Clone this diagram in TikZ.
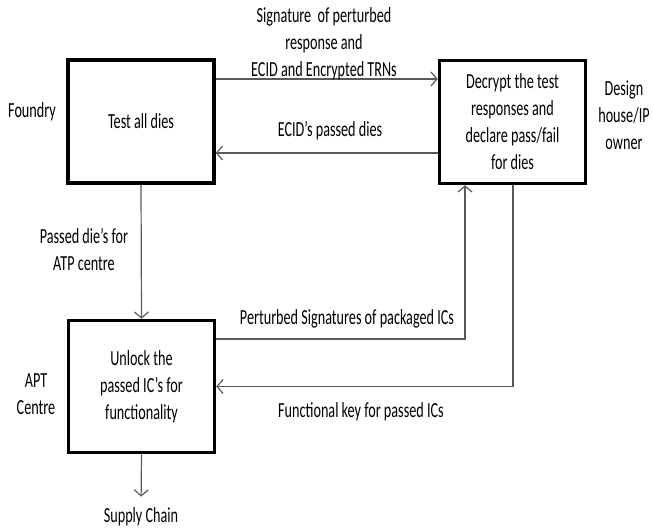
\documentclass[tikz,border=0pt]{standalone}
\usepackage{fontspec}
\setmainfont{Carlito}[FakeStretch=0.66]
\usetikzlibrary{arrows.meta}

\tikzset{
  stage/.style={draw, line width=3.5pt, minimum width=146pt, minimum height=123pt, align=center, inner sep=2pt},
  flow/.style={draw=gray!70!black, line width=1.2pt, -{Straight Barb[length=6pt,width=14pt]}},
  lbl/.style={align=center, inner sep=0pt},
}

\begin{document}
\begin{tikzpicture}[x=1pt,y=-1pt, font=\fontsize{21.5pt}{27pt}\selectfont]
\useasboundingbox (0,0) rectangle (653,529);

% the three stages
\node [stage] (test) at (141,121.5) {Test all dies};
\node [stage] (decrypt) at (512.5,122) {Decrypt the test\\responses and\\declare pass/fail\\for dies};
\node [stage, minimum height=132pt] (unlock) at (141.5,386.5) {Unlock the\\passed IC’s for\\functionality};

% side names
\node [lbl] (foundry) at (32,112) {Foundry};
\node [lbl] (design) at (624,115) {Design\\house/IP\\owner};
\node [lbl] (apt) at (36,394) {APT\\Centre};
\node [lbl] (supply) at (141,517) {Supply Chain};

% foundry <-> design house
\draw [flow] ([yshift=42.5pt]test.east) -- ([yshift=43pt]decrypt.west);
\node [lbl] (sigtxt) at (324,44) {Signature~ of perturbed\\response and\\ECID and Encrypted TRNs};

\draw [flow] ([yshift=-31pt]decrypt.west) -- ([yshift=-31.5pt]test.east);
\node [lbl] (ecidtxt) at (330,131) {ECID’s passed dies};

% foundry -> APT
\draw [flow] (test.south) -- (unlock.north);
\node [lbl] (passtxt) at (84,249) {Passed die’s for\\ATP centre};

% APT <-> design house
\draw [flow] ([yshift=47.5pt]unlock.east) -| ([xshift=-47.5pt]decrypt.south);
\node [lbl] (perttxt) at (347,319) {Perturbed Signatures of packaged ICs};

\draw [flow] ([xshift=0.5pt]decrypt.south) |- (unlock.east);
\node [lbl] (keytxt) at (361,412) {Functional key for passed ICs};

% out to the supply chain
\draw [flow, shorten >=11pt] (unlock.south) -- (supply.north);

\end{tikzpicture}
\end{document}
